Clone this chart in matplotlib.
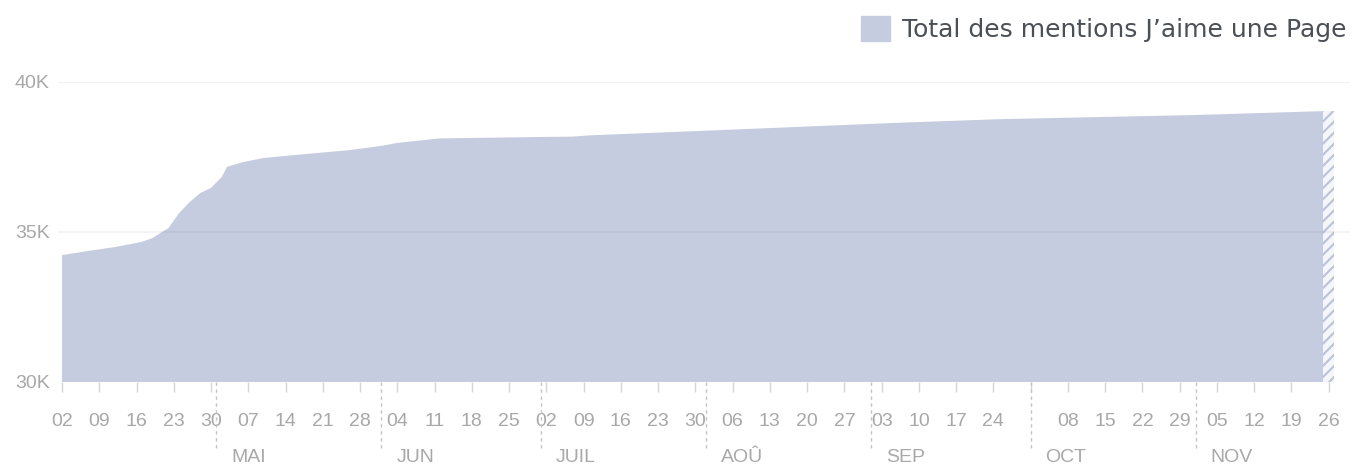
import matplotlib.pyplot as plt
import matplotlib.transforms as mtransforms
from matplotlib.patches import Patch
import pandas as pd

plt.rcParams.update({"font.family": ["Liberation Sans", "DejaVu Sans"],
                     "hatch.linewidth": 1.5})

# total page likes
dates = ["2018-04-02", "2018-04-07", "2018-04-12", "2018-04-17", "2018-04-19",
         "2018-04-22", "2018-04-24", "2018-04-26", "2018-04-28", "2018-04-30",
         "2018-05-02", "2018-05-03", "2018-05-06", "2018-05-10", "2018-05-16",
         "2018-05-26", "2018-06-01", "2018-06-04", "2018-06-12", "2018-07-02",
         "2018-07-07", "2018-07-10", "2018-07-31", "2018-09-06", "2018-09-25",
         "2018-11-01", "2018-11-25"]
likes = [34230, 34370, 34500, 34670, 34800,
         35130, 35630, 36000, 36300, 36470,
         36830, 37170, 37330, 37470, 37570,
         37730, 37870, 37970, 38120, 38170,
         38180, 38220, 38370, 38640, 38760,
         38900, 39030]
# incomplete last period (hatched)
partial_dates = ["2018-11-25", "2018-11-27"]
partial_likes = [39030, 39030]

y_ticks = [30000, 35000, 40000]
y_labels = ["30K", "35K", "40K"]

week_ticks = pd.date_range("2018-04-02", "2018-11-26", freq="7D")
week_labels = ["" if d.strftime("%m-%d") == "10-01" else d.strftime("%d")
               for d in week_ticks]
month_starts = pd.date_range("2018-05-01", "2018-11-01", freq="MS")
month_labels = ["MAI", "JUN", "JUIL", "AOÛ", "SEP", "OCT", "NOV"]

legend_label = "Total des mentions J’aime une Page"

fill_color = "#c6cce0"
label_color = "#a8a8a8"

fig = plt.figure(figsize=(13.54, 4.66), dpi=100)
ax = fig.add_axes([58 / 1354, 84 / 466, 1292 / 1354, 300 / 466])

x = pd.to_datetime(dates)
ax.fill_between(x, 0, likes, color=fill_color, lw=0, zorder=2)
ax.fill_between(pd.to_datetime(partial_dates), 0, partial_likes,
                facecolor="#f4f6fa", edgecolor="#b9c2d6", hatch="///",
                lw=0, zorder=2)

for yv in y_ticks[1:]:
    ax.axhline(yv, color="black", alpha=0.045, lw=1.6, zorder=3)

ax.set_ylim(30000, 40000)
ax.set_xlim(pd.Timestamp("2018-04-01 06:00"), pd.Timestamp("2018-11-30"))

ax.set_yticks(y_ticks, y_labels)
ax.set_xticks(week_ticks, week_labels)
ax.tick_params(axis="y", length=0, pad=6, labelsize=14, labelcolor=label_color)
ax.tick_params(axis="x", length=7, width=1, color="#d6d6d6", pad=15,
               labelsize=14, labelcolor=label_color)

for s in ax.spines.values():
    s.set_visible(False)

trans = mtransforms.blended_transform_factory(ax.transData, ax.transAxes)
for m, lab in zip(month_starts, month_labels):
    ax.plot([m, m], [0, -0.22], transform=trans, clip_on=False,
            color="#c4c4c4", lw=1, ls=(0, (2.5, 2.5)))
    ax.text(m + pd.Timedelta(days=2.8), -0.253, lab, transform=trans,
            ha="left", va="center", fontsize=14, color=label_color)

fig.legend(handles=[Patch(color=fill_color, label=legend_label)],
           loc="center right", bbox_to_anchor=(1347 / 1354, 1 - 29 / 466),
           frameon=False, prop={"family": "DejaVu Sans", "size": 18},
           handlelength=1.16, handleheight=1.13,
           handletextpad=0.52, borderpad=0, borderaxespad=0,
           labelcolor="#4b4f56")

fig.savefig("out.png", dpi=100)
